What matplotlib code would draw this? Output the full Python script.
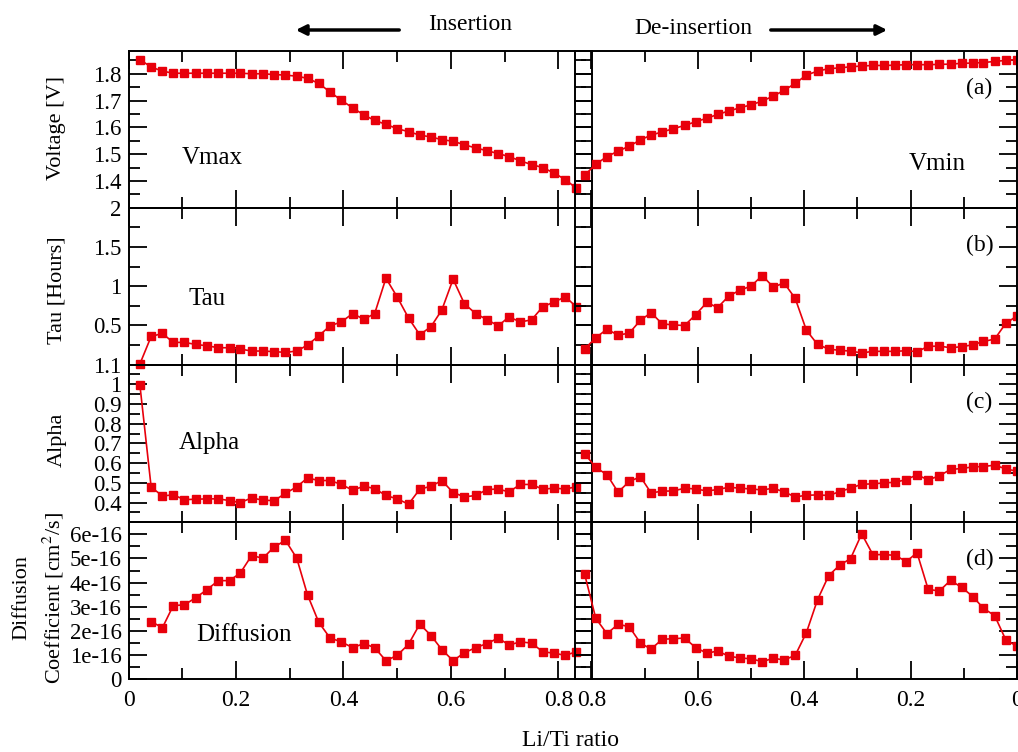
import matplotlib
matplotlib.use("Agg")
import matplotlib.pyplot as plt
from matplotlib.ticker import MultipleLocator

plt.rcParams['font.family'] = ['Liberation Serif', 'DejaVu Serif']
plt.rcParams['mathtext.fontset'] = 'stix'

# Li/Ti ratio, insertion (left) and de-insertion (right)
li_ins = [0.021, 0.042, 0.063, 0.083, 0.104, 0.125, 0.146, 0.167, 0.188, 0.208,
          0.229, 0.250, 0.271, 0.292, 0.313, 0.333, 0.354, 0.375, 0.396, 0.417,
          0.438, 0.458, 0.479, 0.500, 0.521, 0.542, 0.563, 0.583, 0.604, 0.625,
          0.646, 0.667, 0.688, 0.708, 0.729, 0.750, 0.771, 0.792, 0.813, 0.833]
li_des = [0.813, 0.792, 0.771, 0.750, 0.729, 0.708, 0.688, 0.667, 0.646, 0.625,
          0.604, 0.583, 0.563, 0.542, 0.521, 0.500, 0.479, 0.458, 0.438, 0.417,
          0.396, 0.375, 0.354, 0.333, 0.313, 0.292, 0.271, 0.250, 0.229, 0.208,
          0.188, 0.167, 0.146, 0.125, 0.104, 0.083, 0.063, 0.042, 0.021, 0.000]

# (a) voltage
vmax = [1.853, 1.825, 1.810, 1.802, 1.802, 1.802, 1.802, 1.802, 1.802, 1.802,
        1.800, 1.800, 1.797, 1.795, 1.791, 1.783, 1.764, 1.732, 1.701, 1.673,
        1.646, 1.626, 1.611, 1.595, 1.584, 1.571, 1.564, 1.554, 1.548, 1.535,
        1.523, 1.513, 1.502, 1.491, 1.475, 1.461, 1.450, 1.429, 1.405, 1.373]
vmin = [1.421, 1.462, 1.491, 1.511, 1.530, 1.553, 1.571, 1.583, 1.595, 1.607,
        1.621, 1.634, 1.648, 1.661, 1.673, 1.684, 1.698, 1.717, 1.738, 1.764,
        1.795, 1.810, 1.819, 1.822, 1.826, 1.829, 1.831, 1.831, 1.832, 1.834,
        1.834, 1.834, 1.835, 1.836, 1.839, 1.840, 1.842, 1.846, 1.850, 1.853]

# (b) tau [hours]
tau_ins = [0.008, 0.359, 0.397, 0.283, 0.283, 0.257, 0.240, 0.215, 0.215, 0.198,
           0.173, 0.173, 0.165, 0.156, 0.173, 0.249, 0.367, 0.494, 0.544, 0.650,
           0.578, 0.650, 1.101, 0.861, 0.595, 0.380, 0.485, 0.696, 1.089, 0.776,
           0.650, 0.574, 0.494, 0.608, 0.544, 0.570, 0.738, 0.797, 0.865, 0.738]
tau_des = [0.198, 0.342, 0.451, 0.376, 0.401, 0.565, 0.662, 0.519, 0.506, 0.498,
           0.637, 0.793, 0.726, 0.873, 0.949, 1.000, 1.135, 0.987, 1.042, 0.844,
           0.439, 0.257, 0.198, 0.181, 0.173, 0.148, 0.169, 0.169, 0.169, 0.177,
           0.165, 0.232, 0.236, 0.215, 0.228, 0.253, 0.295, 0.325, 0.527, 0.620]

# (c) alpha
alpha_ins = [0.997, 0.478, 0.434, 0.439, 0.415, 0.417, 0.419, 0.419, 0.410, 0.400,
             0.424, 0.412, 0.410, 0.447, 0.480, 0.525, 0.512, 0.512, 0.492, 0.463,
             0.483, 0.471, 0.436, 0.419, 0.392, 0.468, 0.483, 0.512, 0.451, 0.429,
             0.436, 0.466, 0.469, 0.454, 0.492, 0.492, 0.468, 0.473, 0.469, 0.480]
alpha_des = [0.649, 0.578, 0.542, 0.453, 0.507, 0.531, 0.449, 0.458, 0.459, 0.473,
             0.469, 0.459, 0.466, 0.478, 0.473, 0.469, 0.464, 0.473, 0.454, 0.429,
             0.437, 0.439, 0.436, 0.456, 0.473, 0.493, 0.495, 0.500, 0.503, 0.517,
             0.541, 0.515, 0.536, 0.568, 0.573, 0.581, 0.583, 0.590, 0.571, 0.559]

# (d) diffusion coefficient, units of 1e-16 cm^2/s (first insertion point missing)
diff_ins = [2.38, 2.13, 3.04, 3.08, 3.37, 3.71, 4.08, 4.08, 4.40, 5.12,
            5.01, 5.48, 5.75, 5.01, 3.49, 2.35, 1.70, 1.54, 1.30, 1.47,
            1.30, 0.76, 0.98, 1.44, 2.28, 1.80, 1.22, 0.76, 1.09, 1.30,
            1.47, 1.70, 1.41, 1.54, 1.49, 1.13, 1.07, 0.98, 1.13]
diff_des = [4.36, 2.52, 1.88, 2.27, 2.17, 1.49, 1.24, 1.65, 1.67, 1.70,
            1.30, 1.07, 1.16, 0.95, 0.87, 0.84, 0.72, 0.86, 0.79, 0.98,
            1.92, 3.29, 4.29, 4.73, 4.99, 6.02, 5.16, 5.16, 5.13, 4.87,
            5.24, 3.72, 3.65, 4.09, 3.80, 3.42, 2.93, 2.63, 1.62, 1.36]

x_ticks_ins = [0, 0.2, 0.4, 0.6, 0.8]
x_ticks_des = [0.8, 0.6, 0.4, 0.2, 0]
x_ticklabels_ins = ['0', '0.2', '0.4', '0.6', '0.8']
x_ticklabels_des = ['0.8', '0.6', '0.4', '0.2', '0']

rows = [
    dict(yl=(1.3, 1.885), yt=[1.4, 1.5, 1.6, 1.7, 1.8],
         ytl=['1.4', '1.5', '1.6', '1.7', '1.8'], minor=0.05,
         ins=vmax, des=vmin, name_l='Vmax', name_r='Vmin', tag='(a)',
         pos_l=(0.18, 0.32)),
    dict(yl=(0, 2), yt=[0.5, 1, 1.5, 2],
         ytl=['0.5', '1', '1.5', '2'], minor=0.25,
         ins=tau_ins, des=tau_des, name_l='Tau', name_r=None, tag='(b)',
         pos_l=(0.17, 0.42)),
    dict(yl=(0.3, 1.1), yt=[0.4, 0.5, 0.6, 0.7, 0.8, 0.9, 1.0, 1.1],
         ytl=['0.4', '0.5', '0.6', '0.7', '0.8', '0.9', '1', '1.1'], minor=0.05,
         ins=alpha_ins, des=alpha_des, name_l='Alpha', name_r=None, tag='(c)',
         pos_l=(0.175, 0.5)),
    dict(yl=(0, 6.5), yt=[0, 1, 2, 3, 4, 5, 6],
         ytl=['0', '1e-16', '2e-16', '3e-16', '4e-16', '5e-16', '6e-16'], minor=0.5,
         ins=diff_ins, des=diff_des, name_l='Diffusion', name_r=None, tag='(d)',
         pos_l=(0.25, 0.28)),
]

W, H = 1018, 752
fig = plt.figure(figsize=(W / 100, H / 100), dpi=100)

row_edges = [51, 207.7, 364.6, 522.3, 679]
left_px = (128.6, 591.7)
right_px = (575, 1017)
red = '#e8000b'

def style(ax):
    for s in ax.spines.values():
        s.set_linewidth(1.4)
    ax.tick_params(which='both', direction='in', top=True, right=True, width=1.3)
    ax.tick_params(which='major', length=13)
    ax.tick_params(which='minor', length=8)
    ax.tick_params(axis='y', labelsize=16.5, pad=5)
    ax.tick_params(axis='x', labelsize=17, pad=8)
    ax.xaxis.set_minor_locator(MultipleLocator(0.1))

for r, row in enumerate(rows):
    top, bot = row_edges[r], row_edges[r + 1]
    yb = 1 - bot / H
    hh = (bot - top) / H
    axl = fig.add_axes([left_px[0] / W, yb, (left_px[1] - left_px[0]) / W, hh])
    axr = fig.add_axes([right_px[0] / W, yb, (right_px[1] - right_px[0]) / W, hh])
    axr.set_facecolor('none')
    axl.set_facecolor('none')

    xl = li_ins if len(row['ins']) == len(li_ins) else li_ins[1:]
    axl.plot(xl, row['ins'], color=red, marker='s', ms=6, lw=1.2, clip_on=False)
    axr.plot(li_des, row['des'], color=red, marker='s', ms=6, lw=1.2, clip_on=False)

    axl.set_xlim(0, 0.862)
    axr.set_xlim(0.831, 0)
    for ax in (axl, axr):
        style(ax)
        ax.set_ylim(*row['yl'])
        ax.set_yticks(row['yt'])
        ax.yaxis.set_minor_locator(MultipleLocator(row['minor']))
    axl.set_yticklabels(row['ytl'])
    axr.set_yticklabels([])
    axl.set_xticks(x_ticks_ins)
    axr.set_xticks(x_ticks_des)
    if r == len(rows) - 1:
        axl.set_xticklabels(x_ticklabels_ins)
        axr.set_xticklabels(x_ticklabels_des)
    else:
        axl.set_xticklabels([])
        axr.set_xticklabels([])

    axl.text(row['pos_l'][0], row['pos_l'][1], row['name_l'], transform=axl.transAxes,
             fontsize=18, ha='center', va='center')
    if row['name_r']:
        axr.text(0.82, 0.28, row['name_r'], transform=axr.transAxes,
                 fontsize=18, ha='center', va='center')
    axr.text(0.915, 0.76, row['tag'], transform=axr.transAxes,
             fontsize=17, ha='center', va='center')

# y axis titles
fig.text(57 / W, 1 - 128 / H, 'Voltage [V]', rotation=90, ha='center', va='center', fontsize=16)
fig.text(57 / W, 1 - 290 / H, 'Tau [Hours]', rotation=90, ha='center', va='center', fontsize=16)
fig.text(57 / W, 1 - 440 / H, 'Alpha', rotation=90, ha='center', va='center', fontsize=16)
fig.text(22 / W, 1 - 598 / H, 'Diffusion', rotation=90, ha='center', va='center', fontsize=16)
fig.text(53 / W, 1 - 598 / H, 'Coefficient [cm$^2$/s]', rotation=90, ha='center', va='center', fontsize=16)

# header and x label
fig.text(470 / W, 1 - 25 / H, 'Insertion', ha='center', va='center', fontsize=17)
fig.text(693 / W, 1 - 28 / H, 'De-insertion', ha='center', va='center', fontsize=17)
fig.text(570 / W, 1 - 740 / H, 'Li/Ti ratio', ha='center', va='center', fontsize=17)
plt.annotate('', xy=(293, H - 30), xytext=(402, H - 30), xycoords='figure pixels',
             textcoords='figure pixels',
             arrowprops=dict(arrowstyle='-|>,head_length=0.6,head_width=0.3', lw=2.5, color='black'))
plt.annotate('', xy=(890, H - 30), xytext=(768, H - 30), xycoords='figure pixels',
             textcoords='figure pixels',
             arrowprops=dict(arrowstyle='-|>,head_length=0.6,head_width=0.3', lw=2.5, color='black'))

fig.savefig('out.png', dpi=100)
